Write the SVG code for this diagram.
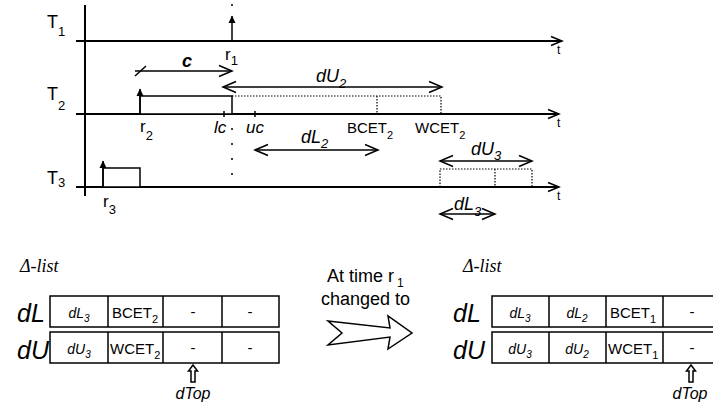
<svg xmlns="http://www.w3.org/2000/svg" width="713" height="410" viewBox="0 0 713 410">
<style>
text{font-family:"Liberation Sans",Arial,sans-serif;fill:#000}
.ax{stroke:#000;stroke-width:2;fill:none}
.ln{stroke:#000;stroke-width:1.5;fill:none}
.dot{stroke:#000;stroke-width:1.2;fill:none;stroke-dasharray:1.5 1.5}
.vdot{stroke:#000;stroke-width:1.5;fill:none;stroke-dasharray:2 13}
.box{stroke:#000;stroke-width:1.5;fill:#fff}
.it{font-style:italic}
.lab{font-size:17px}
.cell{font-size:15px}
.ser{font-family:"Liberation Serif","Times New Roman",serif;font-style:italic;font-size:18px}
</style>
<defs>
<marker id="axhead" markerUnits="userSpaceOnUse" markerWidth="14" markerHeight="12" refX="12" refY="6" orient="auto">
<path d="M1,1.5 L12,6 L1,10.5" fill="none" stroke="#000" stroke-width="1.5"/>
</marker>
<marker id="open" markerUnits="userSpaceOnUse" markerWidth="16" markerHeight="14" refX="14" refY="7" orient="auto-start-reverse">
<path d="M1,1.5 L14,7 L1,12.5" fill="none" stroke="#000" stroke-width="1.5"/>
</marker>
<marker id="fill" markerUnits="userSpaceOnUse" markerWidth="8" markerHeight="9" refX="4" refY="1" orient="0">
<path d="M0.5,8 L4,0.5 L7.5,8 Z" fill="#000"/>
</marker>
</defs>

<g id="axes">
<line class="ax" x1="85" y1="5" x2="85" y2="196"/>
<line class="ax" x1="76" y1="41" x2="562" y2="41" marker-end="url(#axhead)"/>
<line class="ax" x1="76" y1="114" x2="559" y2="114" marker-end="url(#axhead)"/>
<line class="ax" x1="76" y1="187" x2="559" y2="187" marker-end="url(#axhead)"/>
<text x="557" y="54" font-size="12">t</text>
<text x="557" y="127" font-size="12">t</text>
<text x="557" y="200" font-size="12">t</text>
<line class="vdot" x1="232" y1="128" x2="232" y2="187"/>
<line class="ln" x1="232" y1="4" x2="232" y2="6"/>
</g>

<g id="T1">
<text x="47" y="28" font-size="18">T<tspan font-size="13" dy="8">1</tspan></text>
<line class="ln" x1="232" y1="41" x2="232" y2="16" marker-end="url(#fill)"/>
<text x="225" y="60" class="lab">r<tspan font-size="13" dy="5">1</tspan></text>
</g>

<g id="T2">
<text x="47" y="100" font-size="18">T<tspan font-size="13" dy="10">2</tspan></text>
<rect class="box" x="140" y="96" width="92" height="18"/>
<line class="ln" x1="140" y1="114" x2="140" y2="89" marker-end="url(#fill)"/>
<path class="dot" d="M232,96 H441 V114 M377,96 V114"/>
<line class="ln" x1="224" y1="111" x2="224" y2="117"/>
<line class="ln" x1="255" y1="111" x2="255" y2="117"/>
<text x="140" y="132" class="lab">r<tspan font-size="13" dy="8">2</tspan></text>
<text x="214" y="133" class="lab it">lc</text>
<text x="246" y="133" class="lab it">uc</text>
<text x="347" y="133" font-size="15">BCET<tspan font-size="11" dy="6">2</tspan></text>
<text x="415" y="133" font-size="15">WCET<tspan font-size="11" dy="6">2</tspan></text>
</g>

<g id="T3">
<text x="47" y="184" font-size="18">T<tspan font-size="13" dy="3">3</tspan></text>
<rect class="box" x="103" y="168" width="37" height="19"/>
<line class="ln" x1="103" y1="187" x2="103" y2="161" marker-end="url(#fill)"/>
<path class="dot" d="M440,187 V169 H532 V187 M495,169 V187"/>
<text x="103" y="207" class="lab">r<tspan font-size="13" dy="7">3</tspan></text>
</g>

<g id="connectors">
<line class="ln" x1="135" y1="71" x2="232" y2="71" marker-end="url(#open)"/>
<line class="ln" x1="135" y1="76" x2="146" y2="66"/>
<text x="182" y="67" font-size="18" font-weight="bold" font-style="italic">c</text>
<line class="ln" x1="223" y1="87" x2="442" y2="87" marker-start="url(#open)" marker-end="url(#open)"/>
<text x="316" y="82" class="it" font-size="18">dU<tspan font-size="13" dy="6">2</tspan></text>
<line class="ln" x1="255" y1="150" x2="378" y2="150" marker-start="url(#open)" marker-end="url(#open)"/>
<text x="301" y="143" class="it" font-size="18">dL<tspan font-size="13" dy="5">2</tspan></text>
<line class="ln" x1="440" y1="161" x2="532" y2="161" marker-start="url(#open)" marker-end="url(#open)"/>
<text x="471" y="155" class="it" font-size="18">dU<tspan font-size="13" dy="5">3</tspan></text>
<line class="ln" x1="440" y1="214" x2="495" y2="214" marker-start="url(#open)" marker-end="url(#open)"/>
<text x="454" y="210" class="it" font-size="18">dL<tspan font-size="13" dy="6">3</tspan></text>
</g>

<g id="list-before">
<text x="20" y="272" class="ser">Δ-list</text>
<text x="17" y="322" class="it" font-size="25">dL</text>
<text x="17" y="359" class="it" font-size="25">dU</text>
<rect class="box" x="50" y="296" width="229" height="31"/>
<rect class="box" x="50" y="332" width="229" height="31"/>
<path class="ln" d="M108,296 V327 M163,296 V327 M222,296 V327 M108,332 V363 M163,332 V363 M222,332 V363"/>
<text x="79" y="318" text-anchor="middle" class="it" font-size="14">dL<tspan font-size="10" dy="4">3</tspan></text>
<text x="112" y="318" class="cell">BCET<tspan font-size="11" dy="5">2</tspan></text>
<text x="193" y="317" text-anchor="middle" class="cell">-</text>
<text x="250" y="317" text-anchor="middle" class="cell">-</text>
<text x="79" y="354" text-anchor="middle" class="it" font-size="14">dU<tspan font-size="10" dy="4">3</tspan></text>
<text x="110" y="354" class="cell" font-size="14">WCET<tspan font-size="11" dy="5">2</tspan></text>
<text x="193" y="353" text-anchor="middle" class="cell">-</text>
<text x="250" y="353" text-anchor="middle" class="cell">-</text>
<path class="ln" stroke-width="1.2" d="M193,365 L197.5,371 L195,371 L195,382 L191,382 L191,371 L188.5,371 Z"/>
<text x="193" y="399" text-anchor="middle" class="it" font-size="16">dTop</text>
</g>

<g id="transition">
<text x="327" y="282" font-size="18">At time r<tspan font-size="12" dx="3" dy="5">1</tspan></text>
<text x="321" y="305" font-size="18">changed to</text>
<path class="ln" d="M328,321 L390,328 L388,316 L412,333 L388,349 L390,337 L328,345 L342,333 Z"/>
</g>

<g id="list-after">
<text x="463" y="272" class="ser">Δ-list</text>
<text x="453" y="322" class="it" font-size="25">dL</text>
<text x="453" y="359" class="it" font-size="25">dU</text>
<rect class="box" x="492" y="296" width="230" height="31"/>
<rect class="box" x="492" y="332" width="230" height="31"/>
<path class="ln" d="M549,296 V327 M606,296 V327 M663,296 V327 M549,332 V363 M606,332 V363 M663,332 V363"/>
<text x="520" y="318" text-anchor="middle" class="it" font-size="14">dL<tspan font-size="10" dy="4">3</tspan></text>
<text x="577" y="318" text-anchor="middle" class="it" font-size="14">dL<tspan font-size="10" dy="4">2</tspan></text>
<text x="610" y="318" class="cell">BCET<tspan font-size="11" dy="5">1</tspan></text>
<text x="692" y="317" text-anchor="middle" class="cell">-</text>
<text x="520" y="354" text-anchor="middle" class="it" font-size="14">dU<tspan font-size="10" dy="4">3</tspan></text>
<text x="577" y="354" text-anchor="middle" class="it" font-size="14">dU<tspan font-size="10" dy="4">2</tspan></text>
<text x="608" y="354" class="cell" font-size="14">WCET<tspan font-size="11" dy="5">1</tspan></text>
<text x="692" y="353" text-anchor="middle" class="cell">-</text>
<path class="ln" stroke-width="1.2" d="M691,365 L695.5,371 L693,371 L693,382 L689,382 L689,371 L686.5,371 Z"/>
<text x="690" y="399" text-anchor="middle" class="it" font-size="16">dTop</text>
</g>
</svg>
